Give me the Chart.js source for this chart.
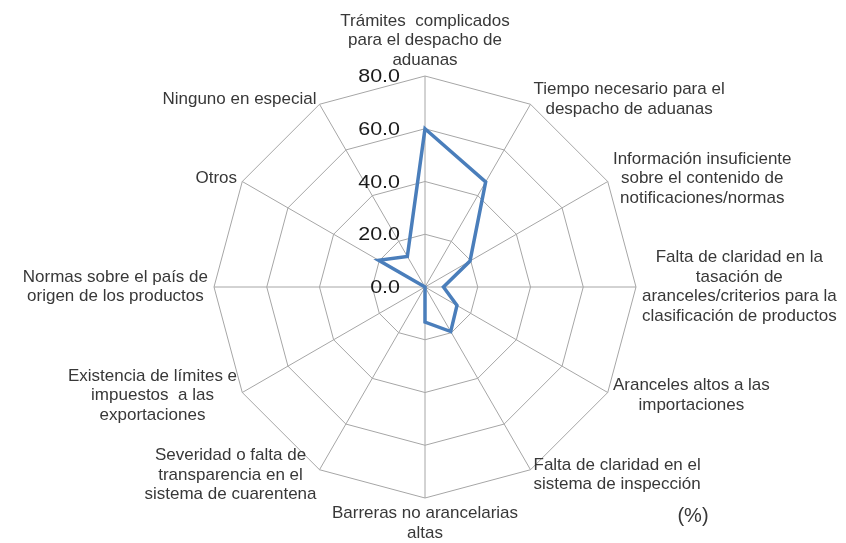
<!DOCTYPE html>
<html>
<head>
<meta charset="utf-8">
<script src="https://cdn.jsdelivr.net/npm/chart.js@4.4.0/dist/chart.umd.min.js"></script>
<style>
  html, body { margin: 0; padding: 0; background: #ffffff; }
  #wrap { width: 846px; height: 543px; position: relative; }
</style>
</head>
<body>
<div id="wrap"><canvas id="c"></canvas></div>
<script>
// Obstacles reported in customs / trade procedures (% of respondents)
const categories = [
  ['Trámites  complicados', 'para el despacho de', 'aduanas'],
  ['Tiempo necesario para el', 'despacho de aduanas'],
  ['Información insuficiente', 'sobre el contenido de', 'notificaciones/normas'],
  ['Falta de claridad en la', 'tasación de', 'aranceles/criterios para la', 'clasificación de productos'],
  ['Aranceles altos a las', 'importaciones'],
  ['Falta de claridad en el', 'sistema de inspección'],
  ['Barreras no arancelarias', 'altas'],
  ['Severidad o falta de', 'transparencia en el', 'sistema de cuarentena'],
  ['Existencia de límites e', 'impuestos  a las', 'exportaciones'],
  ['Normas sobre el país de', 'origen de los productos'],
  ['Otros'],
  ['Ninguno en especial']
];
const shares = [60.0, 46.0, 19.7, 7.0, 14.0, 19.5, 13.3, 0.0, 0.0, 0.0, 20.3, 13.4];
const tickValues = [0, 20, 40, 60, 80];
const unitLabel = '(%)';

const TEXT_COLOR = '#383838';
const TICK_COLOR = '#1a1a1a';
const GRID_COLOR = '#a6a6a6';
const LABEL_FONT = '17px "Liberation Sans", Arial, sans-serif';
const LINE_STEP = 19.5;

// Draws tick values beside the vertical axis, category labels around the web and the unit note
const axisText = {
  id: 'axisText',
  afterDraw(chart) {
    const scale = chart.scales.r;
    const ctx = chart.ctx;
    ctx.save();

    // tick values, right-aligned left of the vertical spoke
    ctx.fillStyle = TICK_COLOR;
    ctx.font = '19px "Liberation Sans", Arial, sans-serif';
    ctx.textAlign = 'right';
    ctx.textBaseline = 'middle';
    scale.ticks.forEach(t => {
      const y = scale.yCenter - scale.getDistanceFromCenterForValue(t.value);
      ctx.save();
      ctx.translate(scale.xCenter - 25, y + 1);
      ctx.scale(1.13, 1);
      ctx.fillText(t.value.toFixed(1), 0, 0);
      ctx.restore();
    });

    // category labels
    ctx.fillStyle = TEXT_COLOR;
    ctx.font = LABEL_FONT;
    ctx.textAlign = 'center';
    ctx.textBaseline = 'middle';
    chart.data.labels.forEach((lines, i) => {
      const pos = scale.getPointPosition(i, scale.drawingArea + 6);
      const ang = scale.getIndexAngle(i);
      const s = Math.sin(ang), c = Math.cos(ang);
      const w = Math.max(...lines.map(l => ctx.measureText(l).width));
      const h = lines.length * LINE_STEP;
      let cx, top;
      if (s > 0.05) cx = pos.x + w / 2;
      else if (s < -0.05) cx = pos.x - w / 2;
      else cx = pos.x;
      if (Math.abs(s) > 0.05) top = pos.y - h / 2;
      else if (c > 0) top = pos.y - h;
      else top = pos.y;
      lines.forEach((l, k) => ctx.fillText(l, cx, top + LINE_STEP * (k + 0.5)));
    });

    // unit note
    ctx.font = '20px "Liberation Sans", Arial, sans-serif';
    ctx.fillText(unitLabel, 693, 516);
    ctx.restore();
  }
};

new Chart(document.getElementById('c'), {
  type: 'radar',
  data: {
    labels: categories,
    datasets: [{
      data: shares,
      borderColor: '#4a7ebb',
      borderWidth: 3.5,
      fill: false,
      pointRadius: 0,
      pointHoverRadius: 0,
      tension: 0
    }]
  },
  options: {
    responsive: true,
    maintainAspectRatio: false,
    animation: false,
    layout: { padding: { left: 214, right: 210, top: 76, bottom: 45 } },
    plugins: { legend: { display: false }, tooltip: { enabled: false } },
    scales: {
      r: {
        min: 0,
        max: 80,
        startAngle: 0,
        afterBuildTicks: s => { s.ticks = tickValues.map(v => ({ value: v })); },
        ticks: { display: false, stepSize: 20 },
        grid: { color: GRID_COLOR, lineWidth: 1, circular: false },
        angleLines: { color: GRID_COLOR, lineWidth: 1 },
        pointLabels: { display: false }
      }
    }
  },
  plugins: [axisText]
});
</script>
</body>
</html>
